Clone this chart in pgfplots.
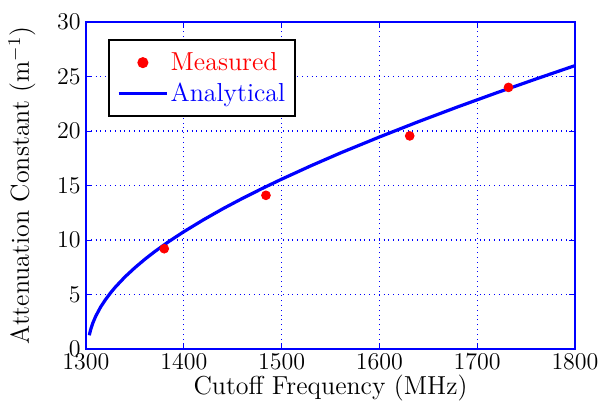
\documentclass[border=0pt]{standalone}
\usepackage{pgfplots}
\pgfplotsset{compat=1.18}
\pgfplotsset{
  mlegend/.style={legend image code/.code={\draw[mark repeat=2,mark phase=2,##1] plot coordinates {(0cm,0cm) (0.425cm,0cm) (0.85cm,0cm)};}},
  llegend/.style={legend image code/.code={\draw[##1] (0cm,0cm) -- (0.85cm,0cm);}},
}
\begin{document}
\begin{tikzpicture}
\useasboundingbox (-43pt,-30pt) rectangle (259.5pt,174.5pt);
\begin{axis}[
  at={(0pt,0pt)}, anchor=south west,
  scale only axis,
  width=244.5pt, height=163.5pt,
  xmin=1300, xmax=1800, ymin=0, ymax=30,
  xtick={1300,1400,...,1800},
  ytick={0,5,...,30},
  axis line style={blue, line width=0.8pt},
  tick style={blue, line width=0.5pt},
  tick align=inside,
  major tick length=3pt,
  grid=major,
  major grid style={blue, dotted, line width=0.55pt},
  ticklabel style={font=\fontsize{13}{15}\selectfont},
  xticklabel style={/pgf/number format/1000 sep={}, inner sep=2.5pt},
  yticklabel style={inner sep=2.5pt},
  xlabel={Cutoff Frequency (MHz)},
  ylabel={Attenuation Constant (m$^{-1}$)},
  xlabel style={font=\fontsize{13}{15}\selectfont, at={(axis description cs:0.5,-0.12)}, anchor=center},
  ylabel style={font=\fontsize{13}{15}\selectfont, at={(axis description cs:-0.131,0.5)}, anchor=center},
  legend style={at={(0.045,0.948)}, anchor=north west, draw=black, line width=1.1pt,
    font=\fontsize{13}{15}\selectfont, inner xsep=4pt, inner ysep=4pt,
    nodes={inner xsep=1pt, inner ysep=2pt}, row sep=0.8pt},
  legend cell align=left,
]
\addplot[only marks, mark=*, mark size=2.2pt, color=red, mark options={draw=red, fill=red}, mlegend]
  coordinates {(1380,9.2) (1484,14.1) (1631,19.55) (1732,24.0)};
\addlegendentry{\textcolor{red}{Measured}}
\addplot[blue, line width=1.6pt, llegend]
  coordinates {
  (1303.4,1.26) (1304,1.51) (1305,1.85) (1307,2.39) (1310,3.02) (1315,3.86)
  (1320,4.54) (1325,5.14) (1330,5.68) (1340,6.63) (1350,7.46) (1360,8.22)
  (1370,8.92) (1385,9.88) (1400,10.76) (1420,11.85) (1440,12.87) (1460,13.82)
  (1480,14.72) (1500,15.58) (1530,16.81) (1560,17.98) (1600,19.45) (1640,20.86)
  (1680,22.21) (1720,23.51) (1760,24.77) (1800,26.00)};
\addlegendentry{\textcolor{blue}{Analytical}}
\end{axis}
\end{tikzpicture}
\end{document}
